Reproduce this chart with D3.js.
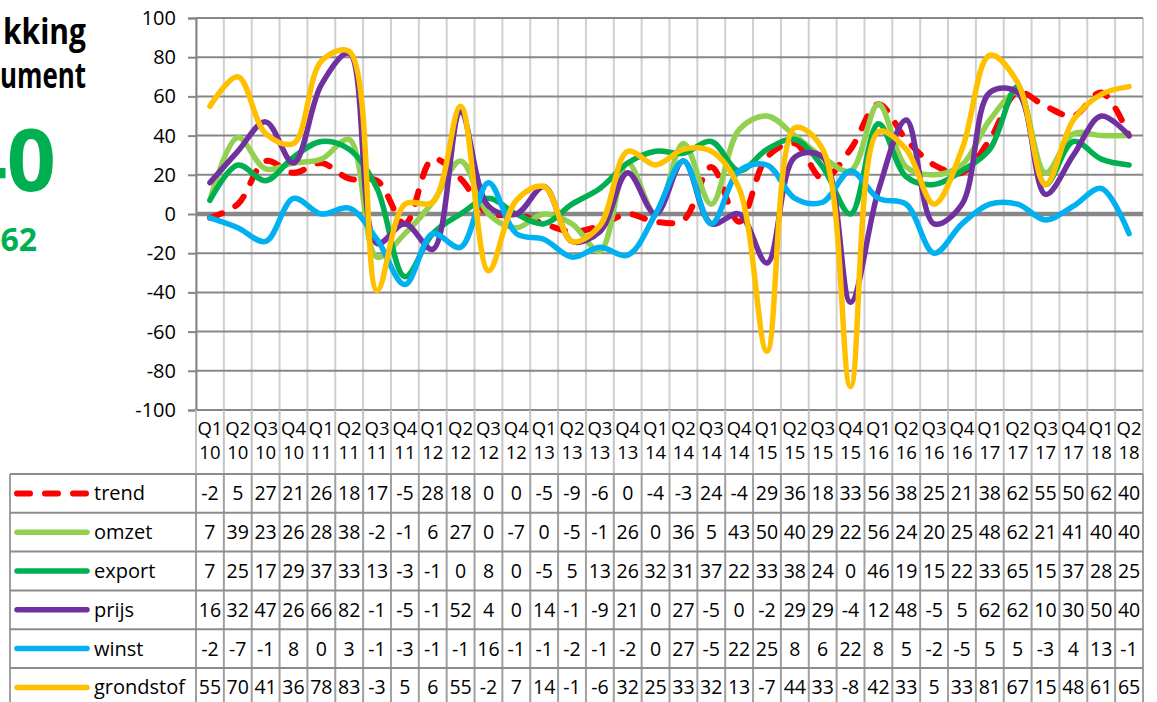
<!DOCTYPE html>
<html><head><meta charset="utf-8">
<script src="https://cdn.jsdelivr.net/npm/d3@7"></script>
<style>html,body{margin:0;padding:0;background:#fff}svg{display:block}</style>
</head><body>
<svg id="chart" width="1157" height="702"></svg>
<script>
// ---------- data ----------
const categories = ["Q1 10","Q2 10","Q3 10","Q4 10","Q1 11","Q2 11","Q3 11","Q4 11","Q1 12","Q2 12","Q3 12","Q4 12",
  "Q1 13","Q2 13","Q3 13","Q4 13","Q1 14","Q2 14","Q3 14","Q4 14","Q1 15","Q2 15","Q3 15","Q4 15",
  "Q1 16","Q2 16","Q3 16","Q4 16","Q1 17","Q2 17","Q3 17","Q4 17","Q1 18","Q2 18"];
const seriesNames = ["trend","omzet","export","prijs","winst","grondstof"];
const trend     = [-2,5,27,21,26,18,17,-5,28,18,0,0,-5,-9,-6,0,-4,-3,24,-4,29,36,18,33,56,38,25,21,38,62,55,50,62,40];
const omzet     = [7,39,23,26,28,38,-22,-10,6,27,0,-7,0,-5,-19,26,0,36,5,43,50,40,29,22,56,24,20,25,48,62,21,41,40,40];
const exportS   = [7,25,17,29,37,33,13,-32,-10,0,8,0,-5,5,13,26,32,31,37,22,33,38,24,0,46,19,15,22,33,65,15,37,28,25];
const prijs     = [16,32,47,26,66,82,-15,-5,-18,52,4,0,14,-14,-9,21,0,27,-5,0,-25,29,29,-45,12,48,-5,5,62,62,10,30,50,40];
const winst     = [-2,-7,-14,8,0,3,-13,-36,-10,-17,16,-10,-13,-22,-17,-21,0,27,-5,22,25,8,6,22,8,5,-20,-5,5,5,-3,4,13,-10];
const grondstof = [55,70,41,36,78,83,-39,5,6,55,-29,7,14,-14,-6,32,25,33,32,13,-70,44,33,-88,42,33,5,33,81,67,15,48,61,65];
const yTicks = [-100,-80,-60,-40,-20,0,20,40,60,80,100];
const titleLines = ["kking","ument"];
const bigValue = "40";
const subValue = "62";

const seriesValues = [trend, omzet, exportS, prijs, winst, grondstof];

// ---------- styles ----------
const colors = {trend:"#FF0000", omzet:"#92D050", export:"#00B050", prijs:"#7030A0", winst:"#00B0F0", grondstof:"#FFC000"};
const FONT = "'Open Sans', 'DejaVu Sans', sans-serif";

const svg = d3.select("#chart");
const plotL = 196, plotR = 1143, plotT = 18, plotB = 410;

const x = d3.scaleBand().domain(categories).range([plotL, plotR]).paddingInner(0).paddingOuter(0);
const y = d3.scaleLinear().domain([-100, 100]).range([plotB, plotT]);
const step = x.step();

// ---------- left text ----------
const g0 = svg.append("g").attr("font-family", FONT);
g0.selectAll("text.title").data(titleLines).join("text")
  .attr("x", 86).attr("y", (d, i) => 44 + i * 44)
  .attr("text-anchor", "end").attr("font-weight", "bold").attr("font-size", 35)
  .attr("textLength", (d, i) => i === 0 ? 83 : 86).attr("lengthAdjust", "spacingAndGlyphs")
  .attr("fill", "#000").text(d => d);
g0.append("text").attr("x", 56).attr("y", 191).attr("text-anchor", "end")
  .attr("font-weight", "bold").attr("font-size", 86).attr("fill", "#00B050").text(bigValue);
g0.append("text").attr("x", 37).attr("y", 251).attr("text-anchor", "end")
  .attr("font-weight", "bold").attr("font-size", 32).attr("fill", "#00B050").text(subValue);

// ---------- gridlines ----------
const boundaries = categories.map(c => x(c)).concat([plotR]);
svg.append("g").selectAll("line").data(boundaries).join("line")
  .attr("x1", d => d).attr("x2", d => d).attr("y1", plotT).attr("y2", plotB)
  .attr("stroke", "#d0d0d0").attr("stroke-width", 2);
svg.append("g").selectAll("line").data(yTicks).join("line")
  .attr("x1", plotL).attr("x2", plotR).attr("y1", d => y(d)).attr("y2", d => y(d))
  .attr("stroke", "#878787").attr("stroke-width", d => d === 0 ? 4.5 : 2);

// y axis
const yAxis = d3.axisLeft(y).tickValues(yTicks).tickSize(8).tickPadding(12).tickFormat(d => String(d));
const ya = svg.append("g").attr("transform", `translate(${plotL},0)`).call(yAxis);
ya.select(".domain").attr("stroke", "#878787").attr("stroke-width", 2);
ya.selectAll(".tick line").attr("stroke", "#878787").attr("stroke-width", 2);
ya.selectAll(".tick text").attr("font-family", FONT).attr("font-size", 20).attr("fill", "#000");

// ---------- series ----------
const line = d3.line()
  .x((d, i) => x(categories[i]) + step / 2)
  .y(d => y(d))
  .curve(d3.curveCatmullRom.alpha(0.5));
const sg = svg.append("g").attr("fill", "none").attr("stroke-linecap", "round").attr("stroke-linejoin", "round");
seriesNames.forEach((name, k) => {
  sg.append("path").datum(seriesValues[k])
    .attr("d", line)
    .attr("stroke", colors[name])
    .attr("stroke-width", name === "trend" ? 6 : 5.5)
    .attr("stroke-dasharray", name === "trend" ? "13,15" : null);
});

// ---------- data table ----------
const headB = 474, rowH = 38.8, tableL = 10;
const nRows = seriesNames.length;
const rowTop = i => headB + i * rowH;
const tg = svg.append("g").attr("font-family", FONT);

tg.selectAll("line.hv").data(boundaries).join("line")
  .attr("x1", d => d).attr("x2", d => d).attr("y1", plotB).attr("y2", headB)
  .attr("stroke", "#c4c4c4").attr("stroke-width", 2);
tg.selectAll("line.dv").data(boundaries).join("line")
  .attr("x1", d => d).attr("x2", d => d).attr("y1", headB).attr("y2", rowTop(nRows))
  .attr("stroke", "#a0a0a0").attr("stroke-width", 2);
tg.append("line").attr("x1", tableL).attr("x2", tableL).attr("y1", headB).attr("y2", rowTop(nRows))
  .attr("stroke", "#a0a0a0").attr("stroke-width", 2);
tg.selectAll("line.h").data(d3.range(nRows + 1)).join("line")
  .attr("x1", tableL).attr("x2", plotR).attr("y1", i => rowTop(i)).attr("y2", i => rowTop(i))
  .attr("stroke", "#8c8c8c").attr("stroke-width", 2);

// header labels (two lines)
const hdr = tg.selectAll("text.hdr").data(categories).join("text")
  .attr("text-anchor", "middle").attr("font-size", 18.5).attr("fill", "#000");
hdr.each(function(c) {
  const parts = c.split(" ");
  const t = d3.select(this);
  parts.forEach((p, j) => {
    t.append("tspan").attr("x", x(c) + step / 2).attr("y", 435 + j * 24).text(p);
  });
});

// visible cell text (narrow cell shows only the first wrapped line)
const cellText = v => { const s = String(v); return s.length > 2 ? s.slice(0, 2) : s; };

seriesNames.forEach((name, k) => {
  const cy = rowTop(k) + rowH / 2;
  tg.append("line").attr("x1", 17).attr("x2", 87).attr("y1", cy).attr("y2", cy)
    .attr("stroke", colors[name]).attr("stroke-width", name === "trend" ? 6 : 5.5)
    .attr("stroke-linecap", "round")
    .attr("stroke-dasharray", name === "trend" ? "13,15" : null);
  tg.append("text").attr("x", 94).attr("y", cy + 7).attr("font-size", 20).attr("fill", "#000").text(name);
  tg.selectAll(null).data(seriesValues[k]).join("text")
    .attr("x", (d, i) => x(categories[i]) + step / 2)
    .attr("y", cy + 7)
    .attr("text-anchor", "middle").attr("font-size", 19.5).attr("fill", "#000")
    .text(d => cellText(d));
});
</script>
</body></html>
